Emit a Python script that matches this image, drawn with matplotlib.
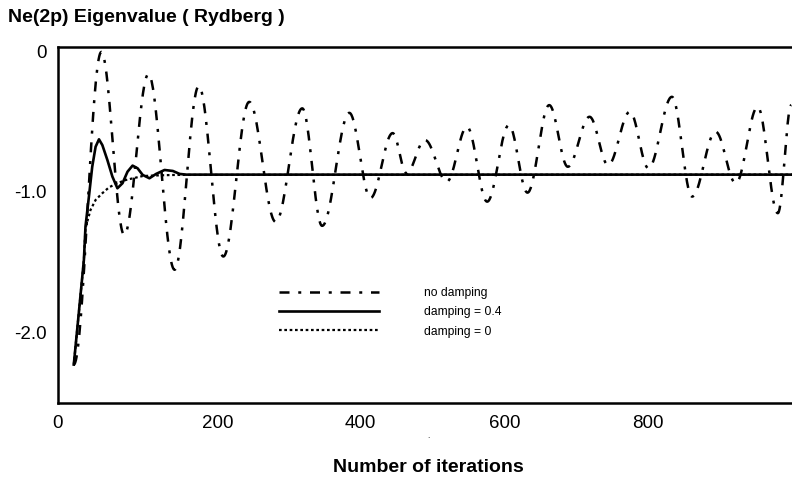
"""
Ne(2p) eigenvalue vs. iteration count for three damping settings.
"""

import numpy as np
import matplotlib
matplotlib.use("Agg")
import matplotlib.pyplot as plt


# no damping: start point followed by alternating peaks / troughs
nodamp_iter = [0, 38.4, 70.3, 104.0, 140.5, 174.2, 208.4, 244.5, 281.4, 318.4,
               346.1, 384.0, 413.5, 444.4, 463.7, 489.4, 519.9, 548.0, 576.1,
               606.4, 632.3, 662.6, 688.5, 718.8, 744.7, 775.0, 800.9, 833.6,
               861.7, 894.5, 922.6, 953.1, 981.2, 1000.0]
nodamp_val = [-2.227, -0.005, -1.305, -0.163, -1.553, -0.248, -1.459, -0.360,
              -1.213, -0.406, -1.241, -0.438, -1.043, -0.582, -0.867, -0.631,
              -0.927, -0.537, -1.069, -0.525, -1.005, -0.383, -0.821, -0.466,
              -0.809, -0.430, -0.832, -0.324, -1.033, -0.572, -0.938, -0.395,
              -1.151, -0.383]

# damping = 0.4
damp04_iter = [0, 7.0, 14.1, 16.3, 21.1, 25.7, 30.4, 35.1, 39.8, 46.8, 53.8,
               60.8, 67.9, 74.9, 81.9, 88.9, 96.0, 105.4, 114.7, 126.5, 138.1,
               147.5, 156.8, 1004.0]
damp04_val = [-2.227, -1.860, -1.482, -1.246, -1.033, -0.821, -0.679, -0.626,
              -0.667, -0.773, -0.891, -0.974, -0.938, -0.856, -0.813, -0.832,
              -0.879, -0.903, -0.872, -0.844, -0.851, -0.872, -0.877, -0.877]

# damping = 0
damp0_iter = [0, 7.0, 14.1, 16.3, 23.3, 30.4, 39.8, 49.2, 60.8, 72.5, 96.0,
              119.4, 142.8, 1004.0]
damp0_val = [-2.227, -1.860, -1.482, -1.258, -1.128, -1.057, -1.009, -0.967,
             -0.938, -0.915, -0.887, -0.882, -0.879, -0.877]

xtick_vals = [200, 400, 600, 800]


def eased(xk, yk, n=40):
    """Half-cosine easing between consecutive extrema, so peaks stay rounded."""
    xs, ys = [], []
    t = np.linspace(0, 1, n, endpoint=False)
    w = (1 - np.cos(np.pi * t)) / 2
    for i in range(len(xk) - 1):
        xs.append(xk[i] + (xk[i + 1] - xk[i]) * t)
        ys.append(yk[i] + (yk[i + 1] - yk[i]) * w)
    xs.append([xk[-1]])
    ys.append([yk[-1]])
    return np.concatenate(xs), np.concatenate(ys)


def main():
    plt.rcParams["font.family"] = ["Liberation Sans", "DejaVu Sans"]

    fig = plt.figure(figsize=(7.92, 4.87), dpi=100)
    ax = fig.add_axes([58 / 792, 1 - 403 / 487, 1 - 58 / 792 + 0.01, 356 / 487])

    x, y = eased(nodamp_iter, nodamp_val)
    ax.plot(x, y, color="black", lw=1.8, ls=(0, (4, 3.5, 1.2, 3.5)),
            label="no damping")
    ax.plot(damp04_iter, damp04_val, color="black", lw=1.9, ls="-",
            label="damping = 0.4")
    ax.plot(damp0_iter, damp0_val, color="black", lw=1.6, ls=(0, (1.2, 1.2)),
            label="damping = 0")

    ax.set_xlim(-20, 1012)
    ax.set_ylim(-2.5, 0.03)

    ax.set_xticks([-22] + xtick_vals)
    ax.set_xticklabels(["0"] + [str(v) for v in xtick_vals])
    ax.set_yticks([0, -1.0, -2.0])
    ax.set_yticklabels(["0", "-1.0", "-2.0"])
    ax.tick_params(length=0, labelsize=13.5, pad=8)
    ax.tick_params(axis="x", pad=9)

    for side in ("left", "top", "bottom"):
        ax.spines[side].set_linewidth(1.8)
    ax.spines["right"].set_visible(False)

    ax.legend(loc="upper left", bbox_to_anchor=(279 / 792, 1 - 287 / 487),
              bbox_transform=fig.transFigure, frameon=False, fontsize=8.7,
              handlelength=8.3, handletextpad=3.7, labelspacing=0.6,
              borderpad=0, borderaxespad=0)

    fig.text(8 / 792, 1 - 18 / 487, "Ne(2p) Eigenvalue ( Rydberg )",
             fontsize=14, fontweight="bold", ha="left", va="center")
    fig.text(428 / 792, 1 - 468 / 487, "Number of iterations",
             fontsize=14, fontweight="bold", ha="center", va="center")
    fig.text(428 / 792, 1 - 437 / 487, ".", fontsize=6, ha="center", va="center")

    fig.savefig("out.png", dpi=100)


if __name__ == "__main__":
    main()
